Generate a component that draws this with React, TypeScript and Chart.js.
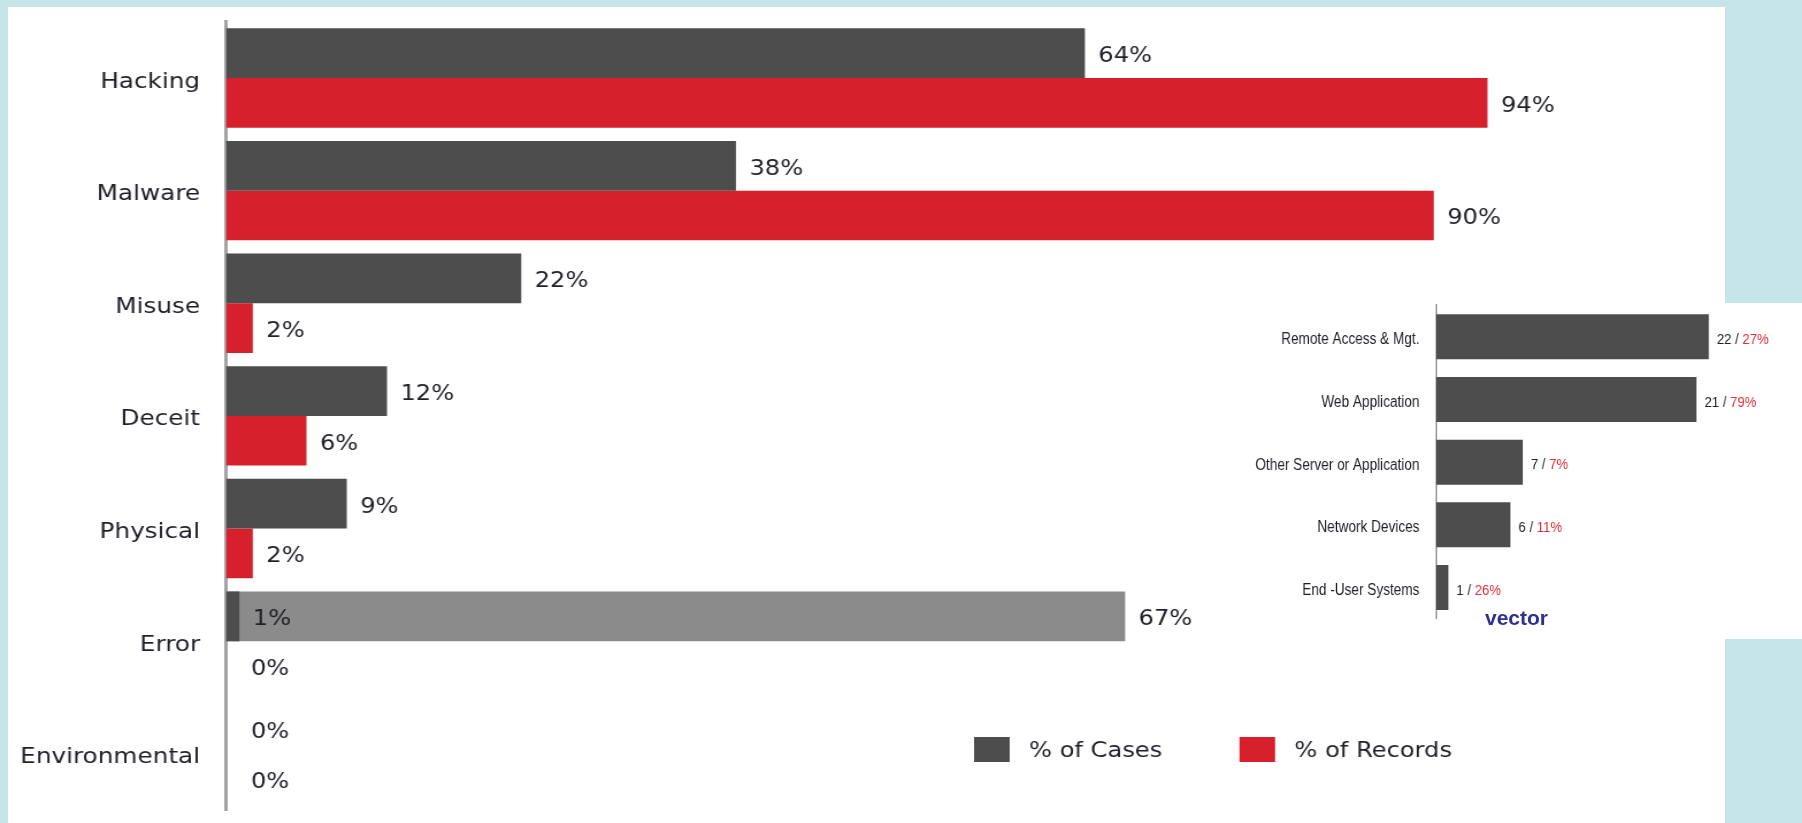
import React, { useEffect, useRef } from "react";
import { Chart, registerables } from "chart.js";

Chart.register(...registerables);

// ---------- data ----------
const categories = ["Hacking", "Malware", "Misuse", "Deceit", "Physical", "Error", "Environmental"];
const casesPct = [64, 38, 22, 12, 9, 1, 0];
const recordsPct = [94, 90, 2, 6, 2, 0, 0];
const errorContributingPct = [null, null, null, null, null, 67, null];
const seriesLabels = ["% of Cases", "% of Records"];

const vectorCategories = [
  "Remote Access & Mgt.",
  "Web Application",
  "Other Server or Application",
  "Network Devices",
  "End -User Systems",
];
const vectorCases = [22, 21, 7, 6, 1];
const vectorRecordsPct = [27, 79, 7, 11, 26];
const vectorTitle = "vector";

// ---------- style ----------
const CYAN = "#c5e5e8";
const DARK = "#4d4d4d";
const RED = "#d6212c";
const LIGHT = "#8b8b8b";
const TEXT = "#1f1f27";
const AXIS = "#a3a3a3";
const LABEL_RED = "#e0313b";

const MAIN_STRETCH = 1.15;
const MAIN_W = 1500;
const MAIN_H = 823;
const MAIN_FONT = '"DejaVu Sans", Verdana, sans-serif';
const MAIN_FONT_SIZE = 21.5;

const INSET_SQUEEZE = 0.85;
const INSET_W = 661;
const INSET_H = 350;
const INSET_FONT = '"Liberation Sans", Arial, sans-serif';

const mainLabelsPlugin = {
  id: "mainLabels",
  afterDatasetsDraw(chart: any) {
    const ctx = chart.ctx;
    ctx.save();
    ctx.font = `${MAIN_FONT_SIZE - 0.5}px ${MAIN_FONT}`;
    ctx.fillStyle = TEXT;
    ctx.textAlign = "left";
    ctx.textBaseline = "middle";
    chart.data.datasets.forEach((ds: any, di: number) => {
      const meta = chart.getDatasetMeta(di);
      meta.data.forEach((el: any, i: number) => {
        const v = ds.data[i];
        if (v === null || v === undefined) return;
        const off = v === 0 ? 21.7 : 11.7;
        ctx.fillText(`${v}%`, el.x + off, el.y + 3.5);
      });
    });
    ctx.restore();
  },
};

const mainLegendPlugin = {
  id: "mainLegend",
  afterDraw(chart: any) {
    const ctx = chart.ctx;
    const startX = 847;
    const step = 230.8;
    const cy = 749.5;
    ctx.save();
    ctx.font = `${MAIN_FONT_SIZE - 0.5}px ${MAIN_FONT}`;
    ctx.textAlign = "left";
    ctx.textBaseline = "middle";
    seriesLabels.forEach((label, i) => {
      const ds = chart.data.datasets[i];
      const x = startX + i * step;
      ctx.fillStyle = ds.backgroundColor;
      ctx.fillRect(x, cy - 12.5, 31, 25);
      ctx.fillStyle = TEXT;
      ctx.fillText(label, x + 47.8, cy + 2);
    });
    ctx.restore();
  },
};

const insetLabelsPlugin = {
  id: "insetLabels",
  afterDatasetsDraw(chart: any) {
    const ctx = chart.ctx;
    const meta = chart.getDatasetMeta(0);
    ctx.save();
    ctx.font = `15.5px ${INSET_FONT}`;
    ctx.textAlign = "left";
    ctx.textBaseline = "middle";
    meta.data.forEach((el: any, i: number) => {
      const first = `${vectorCases[i]} / `;
      const second = `${vectorRecordsPct[i]}%`;
      const x = el.x + 9.4;
      const y = el.y + 3;
      ctx.fillStyle = TEXT;
      ctx.fillText(first, x, y);
      const w = ctx.measureText(first).width;
      ctx.fillStyle = LABEL_RED;
      ctx.fillText(second, x + w, y);
    });
    ctx.restore();
  },
};

function MainChart() {
  const ref = useRef<HTMLCanvasElement>(null);
  useEffect(() => {
    if (!ref.current) return;
    const chart = new Chart(ref.current, {
      type: "bar",
      data: {
        labels: categories,
        datasets: [
          { label: seriesLabels[0], data: casesPct, backgroundColor: DARK, stack: "cases" },
          { label: seriesLabels[1], data: recordsPct, backgroundColor: RED, stack: "records" },
          { label: "Error (contributing)", data: errorContributingPct as any, backgroundColor: LIGHT, stack: "cases" },
        ],
      },
      options: {
        indexAxis: "y",
        responsive: false,
        maintainAspectRatio: false,
        animation: false,
        devicePixelRatio: 1,
        layout: { padding: { top: 21.7, bottom: 12.9, left: 0, right: 136.5 } },
        datasets: { bar: { categoryPercentage: 0.8825, barPercentage: 1.0, borderWidth: 0 } },
        plugins: { legend: { display: false }, tooltip: { enabled: false }, title: { display: false } },
        scales: {
          x: { display: false, min: 0, max: 100, stacked: false },
          y: {
            stacked: true,
            grid: { display: false, drawTicks: false },
            border: { display: true, color: AXIS, width: 3 },
            ticks: {
              color: TEXT,
              font: { family: MAIN_FONT, size: MAIN_FONT_SIZE },
              padding: 22.5,
              autoSkip: false,
              labelOffset: 4,
            },
            afterFit: (s: any) => {
              s.width = 196.5;
              s.paddingTop = 0;
              s.paddingBottom = 0;
            },
          },
        },
      } as any,
      plugins: [mainLabelsPlugin, mainLegendPlugin],
    });
    return () => chart.destroy();
  }, []);
  return (
    <canvas
      ref={ref}
      width={MAIN_W}
      height={MAIN_H}
      style={{ display: "block", width: MAIN_W + "px", height: MAIN_H + "px" }}
    />
  );
}

function VectorChart() {
  const ref = useRef<HTMLCanvasElement>(null);
  useEffect(() => {
    if (!ref.current) return;
    const chart = new Chart(ref.current, {
      type: "bar",
      data: {
        labels: vectorCategories,
        datasets: [{ label: "Cases", data: vectorCases, backgroundColor: DARK }],
      },
      options: {
        indexAxis: "y",
        responsive: false,
        maintainAspectRatio: false,
        animation: false,
        devicePixelRatio: 1,
        layout: { padding: { top: 15.4, bottom: 21.1, left: 0, right: 21.9 } },
        datasets: { bar: { categoryPercentage: 0.718, barPercentage: 1.0, borderWidth: 0 } },
        plugins: { legend: { display: false }, tooltip: { enabled: false } },
        scales: {
          x: { display: false, min: 0, max: 28 },
          y: {
            grid: { display: false, drawTicks: false },
            border: { display: true, color: "#9a9a9a", width: 2 },
            ticks: {
              color: TEXT,
              font: { family: INSET_FONT, size: 16 },
              padding: 19.5,
              autoSkip: false,
              labelOffset: 3,
            },
            afterFit: (s: any) => {
              s.width = 230.6;
              s.paddingTop = 0;
              s.paddingBottom = 0;
            },
          },
        },
      } as any,
      plugins: [insetLabelsPlugin],
    });
    return () => chart.destroy();
  }, []);
  return (
    <canvas
      ref={ref}
      width={INSET_W}
      height={INSET_H}
      style={{ display: "block", width: INSET_W + "px", height: INSET_H + "px" }}
    />
  );
}

export default function App() {
  return (
    <div
      style={{
        position: "fixed",
        left: 0,
        top: 0,
        width: 1802,
        height: 823,
        background: CYAN,
        overflow: "hidden",
      }}
    >
      <div style={{ position: "absolute", left: 8, top: 7, width: 1717, height: 816, background: "#ffffff" }} />
      <div
        style={{
          position: "absolute",
          left: 0,
          top: 0,
          width: MAIN_W,
          height: MAIN_H,
          transform: `scaleX(${MAIN_STRETCH})`,
          transformOrigin: "0 0",
        }}
      >
        <MainChart />
      </div>
      <div style={{ position: "absolute", left: 1240, top: 303, width: 562, height: 336, background: "#ffffff" }} />
      <div
        style={{
          position: "absolute",
          left: 1240,
          top: 290,
          width: INSET_W,
          height: INSET_H,
          transform: `scaleX(${INSET_SQUEEZE})`,
          transformOrigin: "0 0",
        }}
      >
        <VectorChart />
      </div>
      <div
        style={{
          position: "absolute",
          left: 1485,
          top: 606,
          fontFamily: '"Liberation Sans", Arial, sans-serif',
          fontWeight: "bold",
          fontSize: 21,
          lineHeight: "24px",
          color: "#2e3192",
          whiteSpace: "nowrap",
        }}
      >
        {vectorTitle}
      </div>
    </div>
  );
}
